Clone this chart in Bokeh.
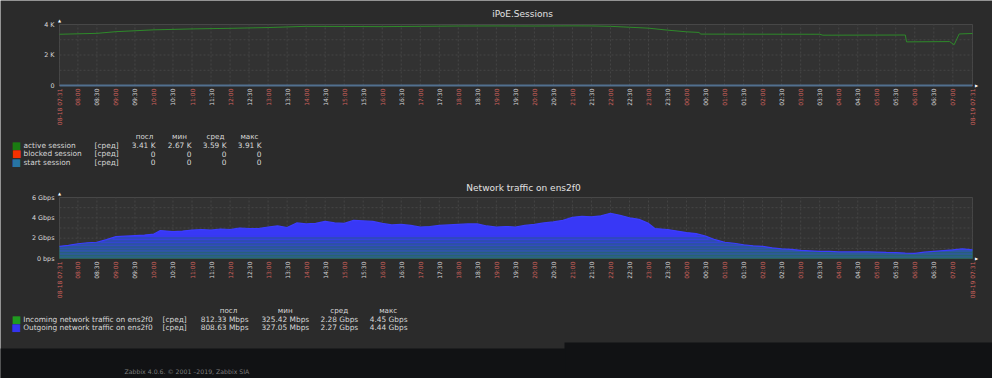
import numpy as np
from bokeh.plotting import figure
from bokeh.models import Label, Range1d
from bokeh.embed import file_html
from bokeh.resources import INLINE

# ---------------- data ----------------
tick_labels = ["08-18 07:31", "08:00", "08:30", "09:00", "09:30", "10:00", "10:30", "11:00", "11:30",
               "12:00", "12:30", "13:00", "13:30", "14:00", "14:30", "15:00", "15:30", "16:00", "16:30",
               "17:00", "17:30", "18:00", "18:30", "19:00", "19:30", "20:00", "20:30", "21:00", "21:30",
               "22:00", "22:30", "23:00", "23:30", "00:00", "00:30", "01:00", "01:30", "02:00", "02:30",
               "03:00", "03:30", "04:00", "04:30", "05:00", "05:30", "06:00", "06:30", "07:00", "08-19 07:31"]

session_times = ["07:31", "08:30", "09:00", "10:00", "11:00", "12:00", "13:00", "14:00", "15:00", "16:00",
                 "17:00", "18:00", "19:00", "20:00", "21:00", "21:30", "22:00", "22:30", "23:00", "23:30",
                 "00:00", "00:20", "00:22", "03:30", "03:35", "05:45", "05:47", "06:55", "07:02", "07:10",
                 "08-19 07:31"]
active_session = [3360, 3420, 3530, 3650, 3710, 3750, 3800, 3880, 3870, 3860,
                  3880, 3900, 3905, 3900, 3910, 3905, 3880, 3820, 3760, 3630,
                  3520, 3480, 3370, 3360, 3300, 3310, 2860, 2880, 2670, 3380,
                  3410]
zero_times = ["07:31", "08-19 07:31"]
blocked_session = [0, 0]
start_session = [0, 0]

traffic_times = ["07:31", "07:45", "08:00", "08:15", "08:30", "08:45", "09:00", "09:15", "09:30", "09:45",
                 "10:00", "10:10", "10:30", "10:45", "11:00", "11:15", "11:30", "11:45", "12:00", "12:15",
                 "12:30", "12:45", "13:00", "13:15", "13:30", "13:45", "14:00", "14:15", "14:30", "14:45",
                 "15:00", "15:15", "15:30", "15:45", "16:00", "16:15", "16:30", "16:45", "17:00", "17:15",
                 "17:30", "17:45", "18:00", "18:15", "18:30", "18:45", "19:00", "19:15", "19:30", "19:45",
                 "20:00", "20:15", "20:30", "20:45", "21:00", "21:15", "21:30", "21:45", "22:00", "22:15",
                 "22:30", "22:45", "23:00", "23:10", "23:30", "23:45", "00:00", "00:15", "00:30", "00:45",
                 "01:00", "01:15", "01:30", "01:45", "02:00", "02:15", "02:30", "02:45", "03:00", "03:15",
                 "03:30", "03:45", "04:00", "04:15", "04:30", "04:45", "05:00", "05:15", "05:30", "05:45",
                 "06:00", "06:15", "06:30", "06:45", "07:00", "07:15", "08-19 07:31"]
outgoing_gbps = [1.20, 1.30, 1.45, 1.55, 1.60, 1.85, 2.15, 2.20, 2.25, 2.30,
                 2.40, 2.75, 2.65, 2.70, 2.80, 2.85, 2.80, 2.90, 2.85, 3.00,
                 2.95, 2.95, 3.10, 3.20, 3.05, 3.50, 3.40, 3.45, 3.65, 3.50,
                 3.45, 3.75, 3.70, 3.65, 3.45, 3.30, 3.35, 3.25, 3.10, 3.15,
                 3.25, 3.30, 3.35, 3.40, 3.40, 3.20, 3.10, 3.15, 3.10, 3.25,
                 3.35, 3.50, 3.60, 3.75, 4.05, 4.15, 4.10, 4.20, 4.45, 4.25,
                 4.00, 3.85, 3.45, 2.95, 2.85, 2.70, 2.55, 2.45, 2.20, 1.85,
                 1.60, 1.50, 1.35, 1.25, 1.20, 1.05, 0.95, 0.90, 0.80, 0.75,
                 0.70, 0.70, 0.65, 0.65, 0.65, 0.66, 0.63, 0.60, 0.58, 0.52,
                 0.50, 0.62, 0.70, 0.78, 0.85, 0.95, 0.85]
incoming_gbps = [1.20, 1.30, 1.45, 1.55, 1.60, 1.85, 2.15, 2.20, 2.25, 2.30,
                 2.40, 2.75, 2.65, 2.70, 2.80, 2.85, 2.80, 2.90, 2.85, 3.00,
                 2.95, 2.95, 3.10, 3.20, 3.05, 3.50, 3.40, 3.45, 3.65, 3.50,
                 3.45, 3.75, 3.70, 3.65, 3.45, 3.30, 3.35, 3.25, 3.10, 3.15,
                 3.25, 3.30, 3.35, 3.40, 3.40, 3.20, 3.10, 3.15, 3.10, 3.25,
                 3.35, 3.50, 3.60, 3.75, 4.05, 4.15, 4.10, 4.20, 4.45, 4.25,
                 4.00, 3.85, 3.45, 2.95, 2.85, 2.70, 2.55, 2.45, 2.20, 1.85,
                 1.60, 1.50, 1.35, 1.25, 1.20, 1.05, 0.95, 0.90, 0.80, 0.75,
                 0.70, 0.70, 0.65, 0.65, 0.65, 0.66, 0.63, 0.60, 0.58, 0.52,
                 0.50, 0.62, 0.70, 0.78, 0.85, 0.95, 0.85]

legend_headers = ["посл", "мин", "сред", "макс"]
sess_names = ["active session", "blocked session", "start session"]
sess_last = ["3.41 K", "0", "0"]
sess_min = ["2.67 K", "0", "0"]
sess_avg = ["3.59 K", "0", "0"]
sess_max = ["3.91 K", "0", "0"]
net_names = ["Incoming network traffic on ens2f0", "Outgoing network traffic on ens2f0"]
net_last = ["812.33 Mbps", "808.63 Mbps"]
net_min = ["325.42 Mbps", "327.05 Mbps"]
net_avg = ["2.28 Gbps", "2.27 Gbps"]
net_max = ["4.45 Gbps", "4.44 Gbps"]
func_label = "[сред]"

sess_yticks = [0, 2000, 4000]
sess_ylabels = ["0", "2 K", "4 K"]
sess_ygrid = [1000, 2000, 3000]
net_yticks = [0, 2, 4, 6]
net_ylabels = ["0 bps", "2 Gbps", "4 Gbps", "6 Gbps"]
net_ygrid = [1, 2, 3, 4, 5]

title_sess = "iPoE.Sessions"
title_net = "Network traffic on ens2f0"
footer = "Zabbix 4.0.6. © 2001 –2019, Zabbix SIA"

# ---------------- helpers ----------------
def to_min(s):
    if s.startswith("08-19"):
        return 1440
    hh, mm = s[-5:].split(":")
    v = int(hh) * 60 + int(mm) - (7 * 60 + 31)
    return v + 1440 if v < 0 else v

PANEL = "#2b2b2b"
PLOT = "#323232"
GRID = "#454545"
BORDER = "#474747"
PAGE = "#111214"
FONT = "DejaVu Sans"
TXT = "#d8d8d8"
RED = "#d0625d"

tick_pos = [to_min(t) for t in tick_labels]

# pixel (reference) -> data helpers, used only to place text / panels
fx = lambda xr: (xr - 67) * 1440.0 / 913.0          # minutes
fya = lambda yr: (93 - yr) * 4000.0 / 61.0          # sessions axis
fyb = lambda yr: (266 - yr) * 6.0 / 61.0            # traffic axis

p = figure(width=992, height=378,
           x_range=Range1d(fx(8), fx(1000)), y_range=Range1d(fya(386), fya(8)),
           output_backend="svg", toolbar_location=None,
           x_axis_location=None, y_axis_location=None, min_border=0)
p.extra_y_ranges = {"net": Range1d(fyb(386), fyb(8))}
p.grid.visible = False
p.outline_line_color = None
p.background_fill_color = PANEL
p.border_fill_color = PANEL

# footer / page background
p.quad(left=fx(572), right=fx(1010), top=fya(350), bottom=fya(400), fill_color=PAGE, line_color=None)
p.quad(left=fx(0), right=fx(573), top=fya(356), bottom=fya(400), fill_color=PAGE, line_color=None)


def put(text, xr, yr, size, color, align="left", angle=0, baseline="middle", y_data=None, yname="default"):
    y = fya(yr) if y_data is None else y_data
    p.add_layout(Label(x=fx(xr), y=y, y_range_name=yname, text=text, text_font=FONT,
                       text_font_size=size, text_color=color, text_align=align,
                       text_baseline=baseline, angle=angle, angle_units="deg"))


def chart_frame(ymax, ygrid, yname):
    p.quad(left=0, right=1440, bottom=0, top=ymax, fill_color=PLOT, line_color=BORDER,
           line_width=1, y_range_name=yname)
    p.segment(x0=tick_pos, x1=tick_pos, y0=[0] * len(tick_pos), y1=[ymax] * len(tick_pos),
              line_color=GRID, line_dash="2 2", line_width=1, y_range_name=yname)
    p.segment(x0=[0] * len(ygrid), x1=[1440] * len(ygrid), y0=ygrid, y1=ygrid,
              line_color=GRID, line_dash="2 2", line_width=1, y_range_name=yname)


def tick_texts(yr):
    for t, lab in zip(tick_pos, tick_labels):
        col = TXT if lab.endswith(":30") else RED
        p.add_layout(Label(x=t, y=fya(yr), text=lab, text_font=FONT, text_font_size="6px",
                           text_color=col, text_align="right", text_baseline="middle",
                           angle=90, angle_units="deg"))


# ---------------- chart A: sessions ----------------
chart_frame(4000, sess_ygrid, "default")
sx = [to_min(t) for t in session_times]
zx = [to_min(t) for t in zero_times]
p.line(sx, active_session, line_color="#2e8a2a", line_width=1)
p.line(zx, blocked_session, line_color="#f63100", line_width=1)
p.line(zx, start_session, line_color="#52708f", line_width=2)

for t, lab in zip(sess_yticks, sess_ylabels):
    put(lab, 62, 0, "6.4px", TXT, align="right", y_data=t)
put(title_sess, 530, 21.5, "9px", "#e2e2e2", align="center")
put("▲", 67, 28, "4px", "#ffffff", align="center")
put("▶", 984, 93, "4px", "#ffffff", align="center")
tick_texts(96)

hdr_x = [152, 187, 223, 257]
val_x = [163, 199, 234, 269]
for h, xh in zip(legend_headers, hdr_x):
    put(h, xh, 144, "7.2px", TXT, align="center")
rows_y = [152.7, 161, 169.7]
sq_cols = ["#1a7c11", "#f63100", "#2774a4"]
for i, y in enumerate(rows_y):
    put("■", 24, y + 0.3, "10px", sq_cols[i], align="center")
    put(sess_names[i], 31, y, "7.4px", TXT)
    put(func_label, 102, y, "7.4px", TXT)
    for vals, xv in zip([sess_last, sess_min, sess_avg, sess_max], val_x):
        put(vals[i], xv, y, "7.4px", TXT, align="right")

# ---------------- chart B: network ----------------
chart_frame(6, net_ygrid, "net")
tx = [to_min(t) for t in traffic_times]
inc = np.array(incoming_gbps)
out = np.array(outgoing_gbps)
p.varea(x=tx, y1=np.zeros(len(inc)), y2=inc, fill_color="#1a7c11", y_range_name="net")
edges = [0.0, 0.15, 0.3, 0.45, 0.6, 0.75, 0.9, 1.05, 1.2, 1.35, 1.5, 1.65, 1.8, 1.95, 2.1, 2.3, 10.0]
c0 = np.array([43, 100, 126])
c1 = np.array([56, 56, 246])
for k in range(len(edges) - 1):
    lo, hi = edges[k], edges[k + 1]
    tt = min(1.0, ((lo + min(hi, 2.45)) / 2.0) / 2.3)
    c = (c0 + (c1 - c0) * tt).astype(int)
    p.varea(x=tx, y1=np.minimum(out, lo), y2=np.minimum(out, hi),
            fill_color="#%02x%02x%02x" % tuple(c), y_range_name="net")
p.line(tx, outgoing_gbps, line_color="#3c3cff", line_width=1.2, y_range_name="net")

for t, lab in zip(net_yticks, net_ylabels):
    put(lab, 62, 0, "6.4px", TXT, align="right", y_data=t, yname="net")
put(title_net, 531, 195, "9px", "#e2e2e2", align="center")
put("▲", 67, 201, "4px", "#ffffff", align="center")
put("▶", 984, 266, "4px", "#ffffff", align="center")
tick_texts(269)

hdr_x2 = [236, 292.7, 346.7, 395.7]
val_x2 = [256, 316.7, 365.7, 415]
for h, xh in zip(legend_headers, hdr_x2):
    put(h, xh, 318.3, "7.2px", TXT, align="center")
rows_y2 = [326.7, 335]
sq_cols2 = ["#1f9a1f", "#3434ee"]
for i, y in enumerate(rows_y2):
    put("■", 24, y + 0.3, "10px", sq_cols2[i], align="center")
    put(net_names[i], 30.7, y, "7.4px", TXT)
    put(func_label, 170, y, "7.4px", TXT)
    for vals, xv in zip([net_last, net_min, net_avg, net_max], val_x2):
        put(vals[i], xv, y, "7.4px", TXT, align="right")

# ---------------- footer ----------------
put(footer, 132, 379, "6.2px", "#7c7c7c")

open("out.html", "w").write(file_html(p, INLINE))
